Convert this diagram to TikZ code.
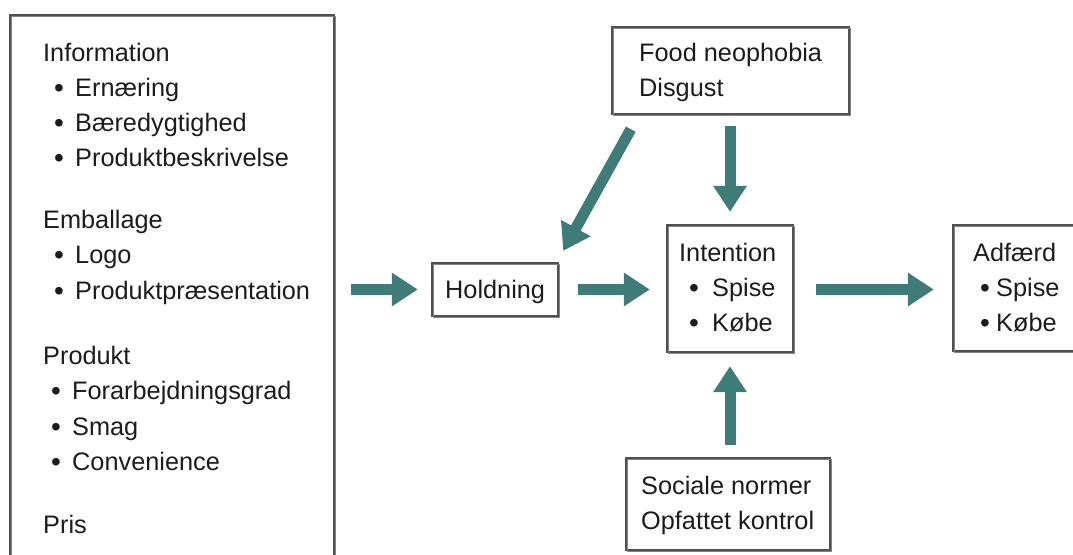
\documentclass[tikz,border=0pt]{standalone}
\usepackage{fontspec}
\setmainfont{Liberation Sans}
\usetikzlibrary{arrows.meta}
\definecolor{teal1}{RGB}{62,123,121}
\definecolor{boxgray}{RGB}{80,80,80}
\definecolor{txt}{RGB}{28,28,28}
\tikzset{
  box/.style={draw=boxgray, line width=2.4pt, rectangle, inner sep=0pt, fill=white,
    postaction={draw=boxgray!70, line width=0.7pt, transform canvas={shift={(1.4pt,-1.6pt)}}}},
  lbl/.style={anchor=base west, inner sep=0pt, text=txt, font=\fontsize{25.3}{30}\selectfont},
  bul/.style={anchor=base, inner sep=0pt, text=txt, font=\fontsize{28}{30}\selectfont},
  flow/.style={draw=teal1, line width=11pt, -{Triangle[width=32pt,length=26pt]}, color=teal1},
}
\begin{document}
\begin{tikzpicture}[x=1pt,y=-1pt]
\useasboundingbox (0,0) rectangle (1073,554);
\clip (0,0) rectangle (1073,554);
\fill[white] (0,0) rectangle (1073,554);

% boxes
\node[box, minimum width=324pt, minimum height=565pt] (left) at (172,297.5) {};
\node[box, minimum width=126pt, minimum height=53pt] (hold) at (495,289.5) {};
\node[box, minimum width=126pt, minimum height=127pt] (int) at (730,288.5) {};
\node[box, minimum width=237pt, minimum height=87pt] (food) at (730.5,70.5) {};
\node[box, minimum width=137pt, minimum height=126pt] (adf) at (1021.5,288) {};
\node[box, minimum width=204pt, minimum height=92pt] (soc) at (728,504) {};

% left box text
\node[lbl] (l1) at (43,61) {Information};
\node[bul] (b1) at (59,97) {•};  \node[lbl] (l2) at (75,96) {Ernæring};
\node[bul] (b2) at (59,132) {•}; \node[lbl] (l3) at (75,131) {Bæredygtighed};
\node[bul] (b3) at (59,167) {•}; \node[lbl] (l4) at (75,166) {Produktbeskrivelse};
\node[lbl] (l5) at (43,228) {Emballage};
\node[bul] (b4) at (59,264) {•}; \node[lbl] (l6) at (75,263) {Logo};
\node[bul] (b5) at (59,300) {•}; \node[lbl] (l7) at (75,299) {Produktpræsentation};
\node[lbl] (l8) at (43,364) {Produkt};
\node[bul] (b6) at (56,400) {•}; \node[lbl] (l9) at (72,399) {Forarbejdningsgrad};
\node[bul] (b7) at (56,436) {•}; \node[lbl] (l10) at (72,435) {Smag};
\node[bul] (b8) at (56,471) {•}; \node[lbl] (l11) at (72,470) {Convenience};
\node[lbl] (l12) at (43,533) {Pris};

% Holdning
\node[lbl] (h1) at (445,298) {Holdning};

% Intention
\node[lbl] (i1) at (679,261) {Intention};
\node[bul] (ib1) at (694,297) {•}; \node[lbl] (i2) at (712,296) {Spise};
\node[bul] (ib2) at (694,332) {•}; \node[lbl] (i3) at (712,331) {Købe};

% Food
\node[lbl] (f1) at (639,61) {Food neophobia};
\node[lbl] (f2) at (639,96) {Disgust};

% Adfaerd
\node[lbl] (a1) at (973,261) {Adfærd};
\node[bul] (ab1) at (985,297) {•}; \node[lbl] (a2) at (996,296) {Spise};
\node[bul] (ab2) at (985,332) {•}; \node[lbl] (a3) at (996,331) {Købe};

% Sociale
\node[lbl] (s1) at (641,494) {Sociale normer};
\node[lbl] (s2) at (641,529) {Opfattet kontrol};

% arrows
\draw[flow] ([xshift=16pt]left.east |- hold.center) -- ([xshift=-13pt]hold.west);
\draw[flow] ([xshift=19pt]hold.east) -- ([xshift=-16pt]int.west |- hold.center);
\draw[flow] ([xshift=22pt]int.east |- hold.center) -- ([xshift=-18pt]adf.west |- hold.center);
\draw[flow] ([yshift=-11pt]food.south -| int.north) -- ([yshift=12pt]int.north);
\draw[flow] ([yshift=12pt]soc.north -| int.south) -- ([yshift=-13pt]int.south);
\draw[flow] ([shift={(20pt,-14pt)}]food.south west) -- ([shift={(4pt,11pt)}]hold.north east);
\end{tikzpicture}
\end{document}
